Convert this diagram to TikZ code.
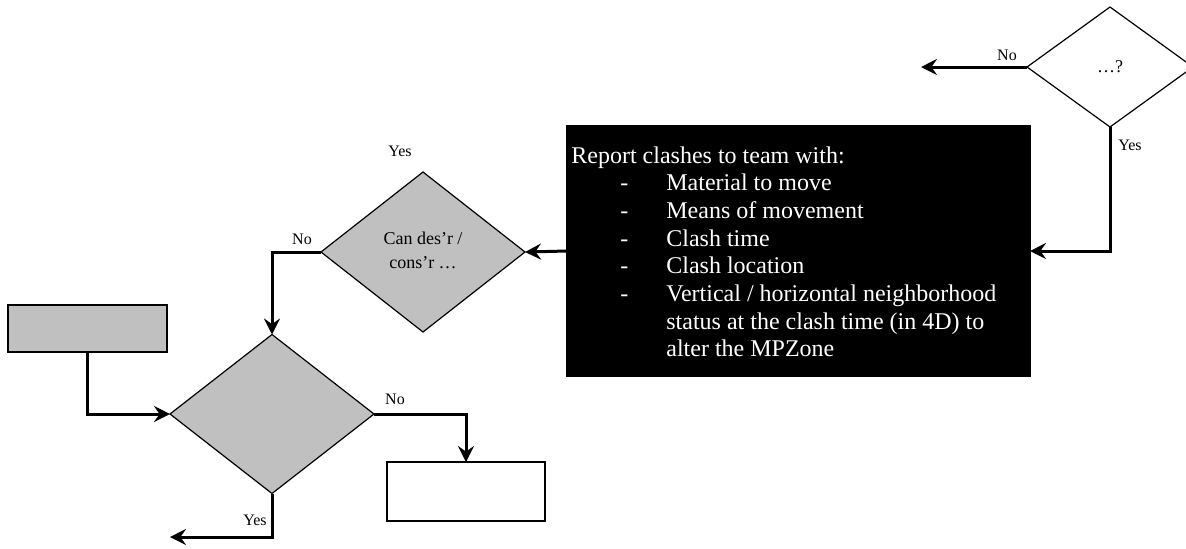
\documentclass[tikz,border=0pt]{standalone}
\usepackage{fontspec}
\setmainfont{Liberation Serif}
\usetikzlibrary{shapes.geometric,arrows.meta}
\definecolor{shade}{RGB}{192,192,192}
\begin{document}
\begin{tikzpicture}[x=0.5pt,y=-0.5pt,
  shape line/.style={draw=black,line width=0.6pt,outer sep=0pt,inner sep=0pt},
  decision/.style={shape line,diamond,aspect=1},
  grayfill/.style={fill=shade},
  boxnode/.style={shape line,rectangle},
  conn/.style={line width=1.5pt,-{Stealth[length=8pt,width=8pt,inset=2.8pt]}},
  lbl/.style={font=\fontsize{8}{9.6}\selectfont,inner sep=0pt},
  dtext/.style={font=\fontsize{9}{12}\selectfont,align=center}
]
\clip (0,0) rectangle (1186,548);
\fill[white] (0,0) rectangle (1186,548);

% nodes
\node[decision,minimum width=83pt,minimum height=60pt,dtext] (q1) at (1110,67) {\raisebox{-2pt}{…?}};
\node[boxnode,fill=black,minimum width=231.5pt,minimum height=125pt] (rep) at (798.5,251) {};
\node[decision,grayfill,minimum width=102pt,minimum height=80pt,dtext] (q2) at (423,252) {\raisebox{-4pt}{\begin{tabular}{@{}c@{}}Can des’r /\\cons’r …\end{tabular}}};
\node[decision,grayfill,minimum width=102pt,minimum height=79.5pt] (q3) at (272,414) {};
\node[boxnode,grayfill,minimum width=79.5pt,minimum height=23.5pt] (gr) at (87.5,328.5) {};
\node[boxnode,fill=white,minimum width=79pt,minimum height=29.5pt] (wb) at (466,491.5) {};

% report text
\node[anchor=base west,inner sep=0pt,text=white,font=\fontsize{12}{13.85}\selectfont] (reptext) at (571,163)
{\begin{tabular}[t]{@{}l@{}}
Report clashes to team with:\\
\makebox[47.5pt][l]{\hspace*{24.5pt}-}Material to move\\
\makebox[47.5pt][l]{\hspace*{24.5pt}-}Means of movement\\
\makebox[47.5pt][l]{\hspace*{24.5pt}-}Clash time\\
\makebox[47.5pt][l]{\hspace*{24.5pt}-}Clash location\\
\makebox[47.5pt][l]{\hspace*{24.5pt}-}Vertical / horizontal neighborhood\\
\hspace*{47.5pt}status at the clash time (in 4D) to\\
\hspace*{47.5pt}alter the MPZone
\end{tabular}};

% free ends
\coordinate (noend) at (921,67);
\coordinate (yesend) at (170,537);
\coordinate (yescorner) at (272,537);

% connectors
\draw[conn] (q1.west) -- (noend);
\draw[conn] (q1.south) |- (rep.east);
\draw[conn] (rep.west) -- (q2.east);
\draw[conn] (q2.west) -| (q3.north);
\draw[conn] (gr.south) |- (q3.west);
\draw[conn] (q3.east) -| (wb.north);
\draw[conn] (q3.south) -- (yescorner) -- (yesend);

% labels
\node[lbl,anchor=base] (l1) at (1007,60) {No};
\node[lbl,anchor=base] (l2) at (1130,150) {Yes};
\node[lbl,anchor=base] (l3) at (400,156) {Yes};
\node[lbl,anchor=base] (l4) at (302,244) {No};
\node[lbl,anchor=base] (l5) at (395,404) {No};
\node[lbl,anchor=base] (l6) at (255,525) {Yes};
\end{tikzpicture}
\end{document}
